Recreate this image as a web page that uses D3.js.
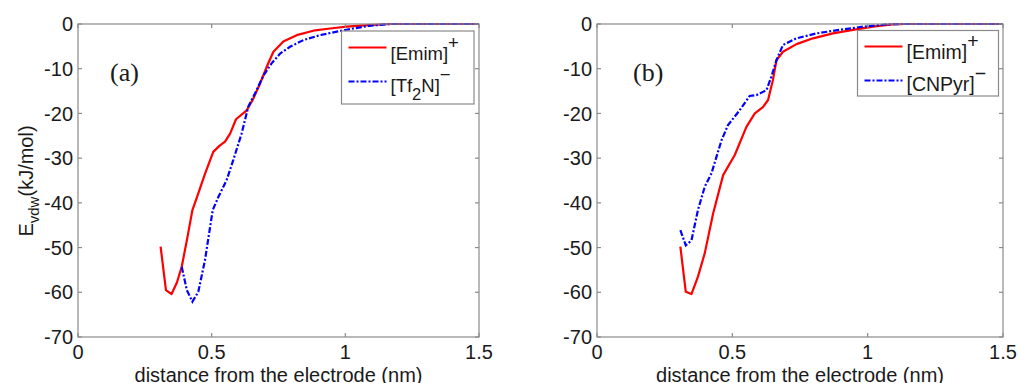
<!DOCTYPE html>
<html>
<head>
<meta charset="utf-8">
<script src="https://cdn.jsdelivr.net/npm/d3@7"></script>
<style>
  body { margin: 0; background: #fff; }
  svg text { font-family: "Liberation Sans", Arial, sans-serif; fill: #1a1a1a; }
</style>
</head>
<body>
<svg id="chart" width="1019" height="383"></svg>
<script>
// x ticks / y ticks
var xTicks = [0, 0.5, 1, 1.5];
var yTicks = [0, -10, -20, -30, -40, -50, -60, -70];

// panel (a)
var emimA_x = [0.309, 0.329, 0.350, 0.370, 0.388, 0.410, 0.428, 0.450, 0.475, 0.506, 0.530, 0.550, 0.569, 0.591, 0.631, 0.655, 0.681, 0.710, 0.731, 0.768, 0.818, 0.880, 0.943, 1.005, 1.07, 1.167, 1.5];
var emimA_y = [-49.8, -59.5, -60.4, -57.8, -54.3, -47.5, -41.6, -37.9, -33.5, -28.6, -27.2, -26.3, -24.5, -21.3, -19.3, -16.8, -13.3, -9.0, -6.2, -3.9, -2.5, -1.5, -1.0, -0.6, -0.3, 0, 0];
var tf2nA_x = [0.388, 0.407, 0.428, 0.450, 0.475, 0.504, 0.525, 0.556, 0.581, 0.612, 0.637, 0.668, 0.693, 0.724, 0.756, 0.793, 0.843, 0.905, 0.968, 1.030, 1.09, 1.167, 1.5];
var tf2nA_y = [-54.3, -59.5, -62.1, -59.9, -52.8, -41.6, -38.7, -34.9, -30.4, -24.5, -18.5, -14.8, -11.6, -8.8, -6.6, -5.1, -3.6, -2.5, -1.7, -1.0, -0.4, 0, 0];

// panel (b)
var emimB_x = [0.308, 0.328, 0.349, 0.373, 0.398, 0.429, 0.466, 0.509, 0.552, 0.583, 0.613, 0.632, 0.650, 0.663, 0.687, 0.737, 0.798, 0.872, 0.946, 1.02, 1.09, 1.14, 1.5];
var emimB_y = [-49.8, -59.9, -60.4, -56.5, -51.3, -42.4, -33.8, -29.3, -23.0, -20.0, -18.6, -17.0, -12.5, -8.1, -6.2, -4.5, -3.2, -2.1, -1.3, -0.6, -0.1, 0, 0];
var cnpyrB_x = [0.308, 0.328, 0.349, 0.373, 0.398, 0.423, 0.460, 0.484, 0.527, 0.564, 0.589, 0.626, 0.644, 0.663, 0.687, 0.737, 0.811, 0.897, 0.983, 1.07, 1.12, 1.5];
var cnpyrB_y = [-46.1, -49.5, -48.4, -41.6, -36.4, -33.4, -26.0, -22.6, -19.3, -16.1, -15.9, -14.8, -11.8, -8.1, -4.7, -3.2, -2.1, -1.3, -0.6, -0.1, 0, 0];

var svg = d3.select("#chart");

function zipXY(xs, ys) {
    return xs.map(function (x, i) { return [x, ys[i]]; });
}

function drawPanel(opt) {
    var x = d3.scaleLinear().domain([0, 1.5]).range([opt.left, opt.right]);
    var y = d3.scaleLinear().domain([-70, 0]).range([337, 24]);
    var g = svg.append("g");

    // lines
    var line = d3.line().x(function (d) { return x(d[0]); }).y(function (d) { return y(d[1]); });
    g.append("path")
        .datum(zipXY(opt.redX, opt.redY))
        .attr("d", line)
        .attr("fill", "none")
        .attr("stroke", "#ff0000")
        .attr("stroke-width", 2.2)
        .attr("stroke-linejoin", "round");
    g.append("path")
        .datum(zipXY(opt.blueX, opt.blueY))
        .attr("d", line)
        .attr("fill", "none")
        .attr("stroke", "#0000ff")
        .attr("stroke-width", 2.2)
        .attr("stroke-dasharray", "6,2,2,2");

    // box + ticks (inward, on all sides, matlab style)
    var ax = svg.append("g").attr("stroke", "#8a8a8a").attr("stroke-width", 1.2);
    ax.append("rect")
        .attr("x", x(0)).attr("y", y(0))
        .attr("width", x(1.5) - x(0)).attr("height", y(-70) - y(0))
        .attr("fill", "none");
    xTicks.forEach(function (t) {
        ax.append("line").attr("x1", x(t)).attr("x2", x(t)).attr("y1", y(-70)).attr("y2", y(-70) - 4);
        ax.append("line").attr("x1", x(t)).attr("x2", x(t)).attr("y1", y(0)).attr("y2", y(0) + 4);
    });
    yTicks.forEach(function (t) {
        ax.append("line").attr("x1", x(0)).attr("x2", x(0) + 4).attr("y1", y(t)).attr("y2", y(t));
        ax.append("line").attr("x1", x(1.5)).attr("x2", x(1.5) - 4).attr("y1", y(t)).attr("y2", y(t));
    });

    // tick labels
    svg.append("g").selectAll("text").data(xTicks).enter().append("text")
        .attr("x", function (d) { return x(d); })
        .attr("y", 359)
        .attr("text-anchor", "middle")
        .attr("font-size", "20px")
        .text(function (d) { return d; });
    svg.append("g").selectAll("text").data(yTicks).enter().append("text")
        .attr("x", x(0) - 5)
        .attr("y", function (d) { return y(d); })
        .attr("dy", "0.36em")
        .attr("text-anchor", "end")
        .attr("font-size", "20px")
        .text(function (d) { return d; });

    // x label (cut by the bottom edge, as in the source figure)
    svg.append("text")
        .attr("x", (x(0) + x(1.5)) / 2)
        .attr("y", 382)
        .attr("text-anchor", "middle")
        .attr("font-size", "20px")
        .text("distance from the electrode (nm)");

    // panel letter
    svg.append("text")
        .attr("x", opt.tagX)
        .attr("y", 81)
        .style("font-family", "'Liberation Serif', 'Times New Roman', serif")
        .attr("font-size", "26px")
        .text(opt.tag);

    // legend
    var fs = opt.legFont;
    var lg = svg.append("g").attr("transform", "translate(" + opt.legX + "," + opt.legY + ")");
    lg.append("rect")
        .attr("width", opt.legW).attr("height", opt.legH)
        .attr("fill", "#fff").attr("stroke", "#8a8a8a").attr("stroke-width", 1.2);
    lg.append("line").attr("x1", 7).attr("x2", 45).attr("y1", opt.row1).attr("y2", opt.row1)
        .attr("stroke", "#ff0000").attr("stroke-width", 2.2);
    lg.append("line").attr("x1", 7).attr("x2", 45).attr("y1", opt.row2).attr("y2", opt.row2)
        .attr("stroke", "#0000ff").attr("stroke-width", 2.2).attr("stroke-dasharray", "6,2,2,2");

    var t1 = lg.append("text").attr("x", 49).attr("y", opt.row1 + 12).attr("font-size", fs + "px");
    t1.append("tspan").text("[Emim]");
    t1.append("tspan").attr("dy", -11).attr("font-size", fs + "px").text("+");

    var t2 = lg.append("text").attr("x", 49).attr("y", opt.row2 + 10).attr("font-size", fs + "px");
    opt.blueLabel.forEach(function (part) {
        var s = t2.append("tspan").text(part.t);
        if (part.sub) s.attr("dy", 8).attr("font-size", (fs - 2) + "px");
        if (part.back) s.attr("dy", -8);
        if (part.sup) s.attr("dy", -11).attr("font-size", fs + "px");
    });
}

drawPanel({
    left: 78, right: 479,
    redX: emimA_x, redY: emimA_y, blueX: tf2nA_x, blueY: tf2nA_y,
    tag: "(a)", tagX: 110,
    legX: 341.5, legY: 31, legW: 132.5, legH: 73, row1: 16.5, row2: 50.5, legFont: 18.5,
    blueLabel: [{t: "[Tf"}, {t: "2", sub: true}, {t: "N]", back: true}, {t: "\u2212", sup: true}]
});

drawPanel({
    left: 597, right: 1003,
    redX: emimB_x, redY: emimB_y, blueX: cnpyrB_x, blueY: cnpyrB_y,
    tag: "(b)", tagX: 633,
    legX: 857.5, legY: 30.5, legW: 141, legH: 65.5, row1: 16, row2: 50, legFont: 19.5,
    blueLabel: [{t: "[CNPyr]"}, {t: "\u2212", sup: true}]
});

// y label (shared, left side)
var yl = svg.append("text")
    .attr("transform", "translate(33,181) rotate(-90)")
    .attr("text-anchor", "middle")
    .attr("font-size", "20px");
yl.append("tspan").text("E");
yl.append("tspan").attr("dy", 6).attr("font-size", "15px").text("vdw");
yl.append("tspan").attr("dy", -6).text("(kJ/mol)");
</script>
</body>
</html>
